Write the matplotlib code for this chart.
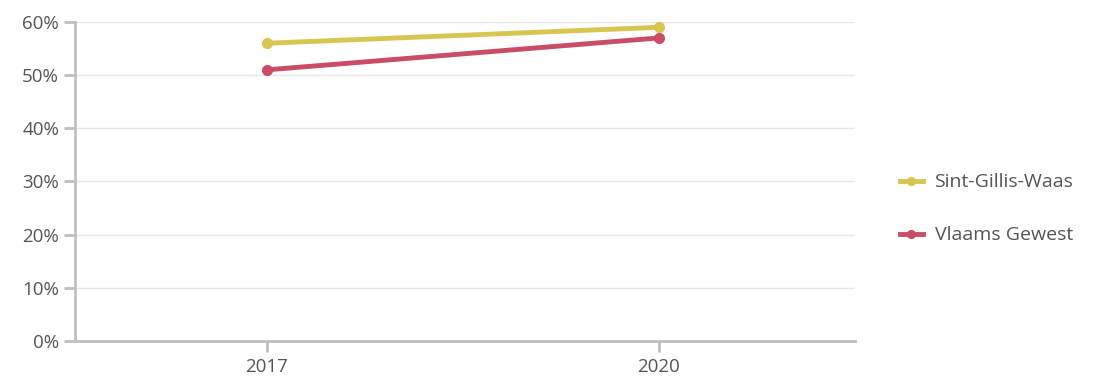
import matplotlib
matplotlib.use('Agg')
import matplotlib.pyplot as plt
from matplotlib.ticker import FuncFormatter

# --- Data ---
years = ['2017', '2020']
sint_gillis = [56, 59]
vlaams = [51, 57]
y_ticks = [0, 10, 20, 30, 40, 50, 60]

plt.rcParams['font.family'] = ['Open Sans', 'DejaVu Sans']

fig = plt.figure(figsize=(10.93, 3.79), dpi=100)
ax = fig.add_axes([0.0686, 0.1003, 0.7134, 0.8417])

x = list(range(len(years)))
ax.plot(x, sint_gillis, color='#d9c651', lw=3.5, marker='o', ms=7, label='Sint-Gillis-Waas', zorder=3)
ax.plot(x, vlaams, color='#cb4c66', lw=3.5, marker='o', ms=7, label='Vlaams Gewest', zorder=3)

ax.set_xlim(-0.49, 1.5)
ax.set_ylim(0, 60)
ax.set_xticks(x)
ax.set_xticklabels(years)
ax.set_yticks(y_ticks)
ax.yaxis.set_major_formatter(FuncFormatter(lambda v, p: f'{v:.0f}%'))

ax.grid(axis='y', color='#e6e6e6', lw=1)
ax.set_axisbelow(True)
for s in ['top', 'right']:
    ax.spines[s].set_visible(False)
for s in ['left', 'bottom']:
    ax.spines[s].set_color('#c0c0c0')
    ax.spines[s].set_linewidth(2)
ax.tick_params(axis='both', colors='#c0c0c0', labelcolor='#555555', labelsize=13.5, width=2, length=8)
ax.tick_params(axis='x', pad=4)

leg = ax.legend(loc='center left', bbox_to_anchor=(1.035, 0.414), frameon=False,
                fontsize=14, labelspacing=1.8, handlelength=1.2, handletextpad=0.6, markerscale=0.8)
for t in leg.get_texts():
    t.set_color('#555555')

fig.savefig('out.png', dpi=100)
